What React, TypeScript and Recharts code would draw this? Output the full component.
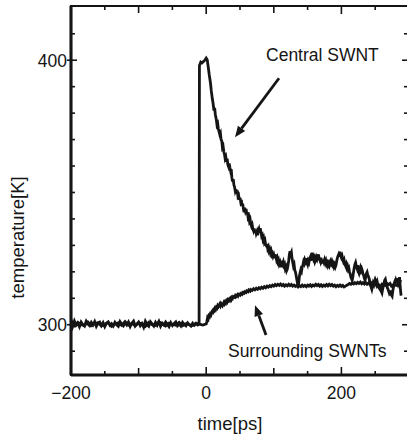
import React from "react";
import {
  LineChart,
  Line,
  XAxis,
  YAxis,
  ReferenceLine,
  ReferenceDot,
  ReferenceArea,
} from "recharts";

// [time ps, temperature K]
const centralSWNT: [number, number][] = [
  [-200, 302.0], [-197.5, 299.4], [-195, 301.4], [-192.5, 299.8], [-190, 300.6],
  [-187.5, 299.2], [-185, 301.0], [-182.5, 300.1], [-180, 299.5], [-177.5, 301.3],
  [-175, 300.2], [-172.5, 299.6], [-170, 300.9], [-167.5, 299.9], [-165, 301.2],
  [-162.5, 299.4], [-160, 300.5], [-157.5, 301.0], [-155, 299.7], [-152.5, 300.8],
  [-150, 299.3], [-147.5, 300.6], [-145, 301.1], [-142.5, 299.8], [-140, 300.4],
  [-137.5, 299.5], [-135, 300.9], [-132.5, 300.0], [-130, 299.4], [-127.5, 301.2],
  [-125, 300.3], [-122.5, 299.6], [-120, 300.7], [-117.5, 299.9], [-115, 301.0],
  [-112.5, 299.3], [-110, 300.6], [-107.5, 301.4], [-105, 299.5], [-102.5, 300.2],
  [-100, 301.0], [-97.5, 299.6], [-95, 300.5], [-92.5, 299.1], [-90, 301.3],
  [-87.5, 300.0], [-85, 299.4], [-82.5, 301.1], [-80, 300.3], [-77.5, 299.5],
  [-75, 300.9], [-72.5, 299.8], [-70, 301.2], [-67.5, 299.4], [-65, 300.6],
  [-62.5, 299.9], [-60, 301.0], [-57.5, 300.2], [-55, 299.3], [-52.5, 300.8],
  [-50, 299.7], [-47.5, 300.5], [-45, 301.1], [-42.5, 299.6], [-40, 300.3],
  [-37.5, 299.5], [-35, 300.9], [-32.5, 300.1], [-30, 299.6], [-27.5, 300.7],
  [-25, 300.0], [-22.5, 299.5], [-20, 300.6], [-17.5, 299.8], [-15, 300.4],
  [-12.5, 299.9], [-10.5, 300.3],
  [-10, 398], [-8, 399.3], [-6, 399], [-4, 399.5], [-2, 400], [0, 400.8],
  [1.5, 400.2], [3, 397.5], [4.5, 394.5], [5.5, 392.8], [6.5, 391], [7.5, 388.5],
  [9, 385.5], [10, 384], [11.5, 381], [12.5, 382], [13.5, 379.5], [15, 377.5],
  [16, 375.5], [17, 376], [18, 374], [19, 373], [20, 372], [21, 372.5],
  [22, 370], [23, 369.5], [24, 367], [25, 367.5], [26, 365.5], [27, 364.5],
  [28, 362.8], [29, 363.4], [30, 361.6], [31, 362.8], [32, 360.5], [33, 359.8],
  [34, 361], [35, 359.5], [36, 358.2], [37, 358.8], [38, 355.5], [39, 354.2],
  [40, 355], [41, 352.8], [42, 352], [43, 350.5], [44, 351.2], [45, 349.5],
  [46, 350.8], [47, 348.5], [48, 348.9], [49, 347.2], [50, 348], [51, 346.5],
  [52, 347.2], [53, 345], [54, 345.8], [55, 343.8], [56, 342.5], [57, 344.2],
  [58, 343], [59, 343.8], [60, 341.8], [61, 342.6], [62, 340.5], [63, 341],
  [64, 339.2], [65, 339.8], [66, 338], [67, 337.2], [68, 337.8], [69, 336.2],
  [70, 335.5], [71, 336.4], [72, 334.8], [73, 335.8], [74, 334.5], [75, 335.2],
  [76, 333.8], [77, 335.5], [78, 336.2], [79, 334.8], [80, 336.5], [81, 335],
  [82, 333.5], [83, 333.9], [84, 332.2], [85, 332.8], [86, 331.2], [87, 331.8],
  [88, 330.2], [89, 329.8], [90, 330.5], [91, 328.8], [92, 329.4], [93, 327.9],
  [94, 328.5], [95, 327.2], [96, 327.9], [97, 326.4], [98, 326.9], [99, 325.8],
  [100, 326.4], [101, 325.2], [102, 326.6], [103, 325.8], [104, 324.6], [105, 325.3],
  [106, 323.8], [107, 324.4], [108, 322.9], [109, 323.5], [110, 321.8], [111, 322.5],
  [112, 324.2], [113, 323.1], [114, 323.8], [115, 322.4], [116, 322.9], [117, 321.2],
  [118, 321.8], [119, 320.4], [120, 321], [121, 322.5], [122, 324.2], [123, 326.5],
  [124, 327.8], [125, 326.8], [126, 327.4], [127, 325], [128, 323.6], [129, 322.2],
  [130, 322.8], [131, 320.6], [132, 320], [133, 318.6], [134, 317.2], [135, 315.8],
  [136, 314.4], [137, 316.2], [138, 318.5], [139, 319.8], [140, 320.8], [141, 320.2],
  [142, 321.8], [143, 322.5], [144, 323.8], [145, 323.2], [146, 324.6], [147, 324],
  [148, 325.2], [149, 323.5], [150, 322.8], [151, 324.2], [152, 323.6], [153, 325],
  [154, 325.6], [155, 324.2], [156, 326.2], [157, 327.2], [158, 326], [159, 324.8],
  [160, 325.4], [161, 323.8], [162, 324.4], [163, 325.5], [164, 324.8], [165, 325.8],
  [166, 326.6], [167, 325.2], [168, 324.5], [169, 325.3], [170, 323.6], [171, 324.1],
  [172, 323.2], [173, 324.6], [174, 323.8], [175, 324.6], [176, 323.5], [177, 324.2],
  [178, 322.8], [179, 323.4], [180, 322.4], [181, 323.2], [182, 322.5], [183, 323.8],
  [184, 324.3], [185, 323.2], [186, 323.8], [187, 322.6], [188, 323.1], [189, 322],
  [190, 322.7], [191, 321.8], [192, 322.5], [193, 324], [194, 325.2], [195, 326],
  [196, 326.6], [197, 325.8], [198, 327.6], [199, 326.2], [200, 325.4], [201, 326],
  [202, 324.8], [203, 323.9], [204, 324.5], [205, 323.1], [206, 322.4], [207, 323],
  [208, 321.6], [209, 322.2], [210, 320.9], [211, 321.4], [212, 320], [213, 319.2],
  [214, 318], [215, 317.4], [216, 316.8], [217, 318.2], [218, 320], [219, 321.5],
  [220, 322.8], [221, 323.5], [222, 322.2], [223, 321.4], [224, 322.5], [225, 320.2],
  [226, 319.5], [227, 320.8], [228, 321.6], [229, 320.5], [230, 321.2], [231, 320.4],
  [232, 319.2], [233, 318.6], [234, 317.5], [235, 316.8], [236, 318], [237, 319.4],
  [238, 319.9], [239, 318.8], [240, 318.2], [241, 317.5], [242, 316.2], [243, 315.4],
  [244, 314.2], [245, 313.4], [246, 314.6], [247, 315.8], [248, 315.2], [249, 316.4],
  [250, 317.2], [251, 316.6], [252, 315.4], [253, 316.2], [254, 315], [255, 314.2],
  [256, 313.8], [257, 314.8], [258, 313.2], [259, 312.6], [260, 312], [261, 313.4],
  [262, 314.5], [263, 315.6], [264, 316.8], [265, 317.2], [266, 316], [267, 315.2],
  [268, 314], [269, 313.4], [270, 312.6], [271, 311.8], [272, 312.2], [273, 313],
  [274, 311.2], [275, 310.8], [276, 312.8], [277, 314.2], [278, 315.5], [279, 316.4],
  [280, 317], [281, 315.8], [282, 317.6], [283, 316.4], [284, 315.4], [285, 316.2],
  [286, 318], [287, 314.4], [288, 311.6], [288.5, 311],
];

const surroundingSWNTs: [number, number][] = [
  [-200, 300.2], [-195, 299.5], [-190, 300.9], [-185, 300.0], [-180, 299.7],
  [-175, 301.0], [-170, 299.6], [-165, 300.4], [-160, 300.8], [-155, 299.5],
  [-150, 300.1], [-145, 300.9], [-140, 299.4], [-135, 300.3], [-130, 300.7],
  [-125, 299.8], [-120, 301.2], [-115, 299.9], [-110, 300.5], [-105, 299.6],
  [-100, 300.8], [-95, 300.2], [-90, 299.4], [-85, 300.9], [-80, 300.0],
  [-75, 299.7], [-70, 301.1], [-65, 300.3], [-60, 299.5], [-55, 300.6],
  [-50, 300.1], [-45, 299.8], [-40, 300.9], [-35, 299.6], [-30, 300.4],
  [-25, 300.0], [-20, 299.7], [-15, 300.6], [-10, 300.2], [-5, 299.9],
  [0, 300.3], [1, 301.2], [2, 302.6], [3, 302.2], [4, 303.4], [5, 303.1],
  [6, 304], [7, 303.7], [8, 304.8], [9, 305.2], [10, 304.8], [11, 305.6],
  [12, 305.3], [13, 306.2], [14, 305.8], [15, 306.6], [16, 306.3], [17, 307.2],
  [18, 306.8], [19, 307.3], [20, 307.8], [21, 307.2], [22, 308], [23, 307.6],
  [24, 307.2], [25, 307.8], [26, 308.4], [27, 307.9], [28, 308.6], [29, 308.2],
  [30, 309], [31, 308.6], [32, 309.4], [33, 309.1], [34, 309.6], [35, 309.2],
  [36, 309.9], [37, 309.5], [38, 310.3], [39, 310], [40, 310.7], [42, 310.4],
  [43, 311], [44, 310.6], [46, 311.3], [47, 310.9], [48, 311.5], [50, 311.2],
  [51, 311.8], [53, 311.5], [54, 312.2], [56, 311.9], [57, 312.5], [59, 312.2],
  [60, 312.8], [62, 312.5], [63, 313.1], [65, 312.7], [66, 313.3], [68, 313],
  [70, 313.6], [72, 313.2], [74, 313.8], [76, 313.4], [78, 314], [80, 313.6],
  [82, 314.2], [84, 313.8], [86, 314.4], [88, 314], [90, 314.6], [92, 314.2],
  [94, 314.8], [96, 314.4], [98, 315], [100, 314.6], [102, 315.2], [104, 314.8],
  [106, 315.3], [108, 314.9], [110, 315.4], [112, 314.8], [114, 315.2], [116, 314.6],
  [118, 315.1], [120, 314.7], [122, 315.3], [124, 314.8], [126, 315.2], [128, 314.6],
  [130, 315], [132, 314.5], [134, 314.9], [136, 314.3], [138, 314.8], [140, 314.4],
  [142, 315], [144, 314.5], [146, 314.9], [148, 314.4], [150, 315], [152, 314.6],
  [154, 315.1], [156, 314.5], [158, 315], [160, 314.7], [162, 315.3], [164, 314.8],
  [166, 315.2], [168, 314.6], [170, 315.1], [172, 314.5], [174, 315], [176, 314.6],
  [178, 315.2], [180, 314.7], [182, 315.3], [184, 314.8], [186, 315.2], [188, 314.6],
  [190, 315], [192, 314.4], [194, 314.9], [196, 314.5], [198, 315], [200, 314.5],
  [202, 314.9], [204, 314.3], [206, 314.6], [208, 314.9], [210, 315.2], [212, 315.6],
  [214, 315.3], [216, 315.8], [218, 315.4], [220, 315.9], [222, 315.5], [224, 316],
  [226, 315.6], [228, 316.1], [230, 315.5], [232, 315.9], [234, 315.4], [236, 315.9],
  [238, 315.3], [240, 315.8], [242, 315.2], [244, 315.9], [246, 315.4], [248, 315.7],
  [250, 315.1], [252, 315.5], [254, 314.6], [256, 315], [258, 314.5], [260, 315.3],
  [262, 314.8], [264, 315.4], [266, 314.9], [268, 315.5], [270, 315.2], [272, 315.6],
  [274, 314.6], [276, 315], [278, 314.7], [280, 315.2], [282, 314.9], [284, 315.5],
  [286, 315.8], [287.5, 317],
];

const xTicks = [-200, -150, -100, -50, 0, 50, 100, 150, 200, 250, 300];
const yTicks = [290, 300, 310, 320, 330, 340, 350, 360, 370, 380, 390, 400, 410];
const xLabelled = [-200, 0, 200];
const yLabelled = [300, 400];
const xDomain: [number, number] = [-200, 300];
const yDomain: [number, number] = [281, 420.5];

const INK = "#151515";
const FONT = "'Liberation Sans', Arial, sans-serif";
const FS = 17.5;
const TITLE_FS = 18.5;

const centralData = centralSWNT.map(([t, T]) => ({ t, T }));
const surroundingData = surroundingSWNTs.map(([t, T]) => ({ t, T }));

const fmt = (v: number) => (v < 0 ? `\u2212${-v}` : `${v}`);

function xTickLen(v: number) {
  if (v % 200 === 0) return 8;
  if (v % 100 === 0) return 7;
  return 4;
}

function BottomTick({ x, y, payload }: any) {
  const v = payload.value as number;
  return (
    <g>
      <line x1={x} x2={x} y1={y} y2={y - xTickLen(v)} stroke={INK} strokeWidth={1.6} />
      {xLabelled.includes(v) && (
        <text x={x} y={y + 24} textAnchor="middle" fontSize={FS} fontFamily={FONT} fill={INK}>
          {fmt(v)}
        </text>
      )}
    </g>
  );
}

// tick hanging down from the top frame, drawn at the segment's start point
function TopTick({ x1, y1, len }: any) {
  return <line x1={x1} x2={x1} y1={y1} y2={y1 + len} stroke={INK} strokeWidth={1.6} />;
}

function LeftTick({ x, y, payload }: any) {
  const v = payload.value as number;
  const major = yLabelled.includes(v);
  return (
    <g>
      <line x1={major ? x - 4 : x} x2={x + (major ? 6 : 4)} y1={y} y2={y} stroke={INK} strokeWidth={1.6} />
      {major && (
        <text x={x - 4} y={y} dy="0.36em" textAnchor="end" fontSize={FS} fontFamily={FONT} fill={INK}>
          {fmt(v)}
        </text>
      )}
    </g>
  );
}

function RightTick({ x, y, payload }: any) {
  const v = payload.value as number;
  const major = yLabelled.includes(v);
  return <line x1={x} x2={x - (major ? 7 : 5)} y1={y} y2={y} stroke={INK} strokeWidth={1.6} />;
}

function Arrow(props: any) {
  const { x1, y1, x2, y2 } = props;
  const ang = Math.atan2(y2 - y1, x2 - x1);
  const len = 11;
  const half = 4.5;
  const bx = x2 - len * Math.cos(ang);
  const by = y2 - len * Math.sin(ang);
  const px = -Math.sin(ang) * half;
  const py = Math.cos(ang) * half;
  return (
    <g>
      <line x1={x1} y1={y1} x2={bx} y2={by} stroke={INK} strokeWidth={2.8} />
      <polygon points={`${x2},${y2} ${bx + px},${by + py} ${bx - px},${by - py}`} fill={INK} />
    </g>
  );
}

const note = (text: string) => (props: any) => (
  <text x={props.cx} y={props.cy} fontSize={FS} fontFamily={FONT} fill={INK}>
    {text}
  </text>
);

function XTitle({ viewBox }: any) {
  return (
    <text x={viewBox.x + viewBox.width / 2 - 10} y={viewBox.y + 55} textAnchor="middle"
      fontSize={TITLE_FS} fontFamily={FONT} fill={INK}>
      time[ps]
    </text>
  );
}

function YTitle({ viewBox }: any) {
  const cx = 24;
  const cy = viewBox.y + viewBox.height / 2 + 47;
  return (
    <text x={cx} y={cy} transform={`rotate(-90 ${cx} ${cy})`} textAnchor="middle"
      fontSize={TITLE_FS} fontFamily={FONT} fill={INK}>
      temperature[K]
    </text>
  );
}

export default function App() {
  return (
    <div style={{ position: "absolute", left: 0, top: 0, width: 407, height: 436, overflow: "hidden", background: "#fff" }}>
      {/* the frame's right edge falls just outside the picture, so the chart is a bit wider */}
      <div style={{ width: 412, height: 436 }}>
        <LineChart width={412} height={436} margin={{ top: 6, right: 0, bottom: 0, left: 0 }}>
          <XAxis
            dataKey="t"
            type="number"
            domain={xDomain}
            allowDataOverflow
            ticks={xTicks}
            interval={0}
            tickSize={0}
            tickMargin={0}
            tickLine={false}
            height={61}
            axisLine={{ stroke: INK, strokeWidth: 3 }}
            tick={<BottomTick />}
            label={{ content: <XTitle /> }}
          />
          <YAxis
            type="number"
            domain={yDomain}
            allowDataOverflow
            ticks={yTicks}
            interval={0}
            tickSize={0}
            tickMargin={0}
            tickLine={false}
            width={71}
            axisLine={{ stroke: INK, strokeWidth: 3 }}
            tick={<LeftTick />}
            label={{ content: <YTitle /> }}
          />
          <YAxis
            yAxisId="right"
            orientation="right"
            type="number"
            domain={yDomain}
            allowDataOverflow
            ticks={yTicks}
            interval={0}
            tickSize={0}
            tickMargin={0}
            tickLine={false}
            width={3}
            axisLine={false}
            tick={<RightTick />}
          />
          {/* plot frame (top edge shows; left/bottom sit under the axes) */}
          <ReferenceArea
            x1={xDomain[0]}
            x2={xDomain[1]}
            y1={yDomain[0]}
            y2={yDomain[1]}
            fill="none"
            fillOpacity={0}
            stroke={INK}
            strokeWidth={2.2}
            ifOverflow="visible"
          />
          {xTicks.map((v) => (
            <ReferenceLine
              key={v}
              segment={[{ x: v, y: yDomain[1] }, { x: v, y: yDomain[1] - 1 }]}
              ifOverflow="visible"
              shape={<TopTick len={xTickLen(v)} />}
            />
          ))}
          <Line
            data={surroundingData}
            dataKey="T"
            type="linear"
            stroke={INK}
            strokeWidth={2.8}
            dot={false}
            isAnimationActive={false}
          />
          <Line
            data={centralData}
            dataKey="T"
            type="linear"
            stroke={INK}
            strokeWidth={2.8}
            dot={false}
            isAnimationActive={false}
          />
          <ReferenceLine segment={[{ x: 107.7, y: 393.2 }, { x: 42.6, y: 370.9 }]} shape={<Arrow />} />
          <ReferenceLine segment={[{ x: 88.5, y: 296.1 }, { x: 72.2, y: 307.4 }]} shape={<Arrow />} />
          <ReferenceDot x={88.5} y={399.6} r={0} shape={note("Central SWNT")} />
          <ReferenceDot x={32.2} y={287.8} r={0} shape={note("Surrounding SWNTs")} />
        </LineChart>
      </div>
    </div>
  );
}
